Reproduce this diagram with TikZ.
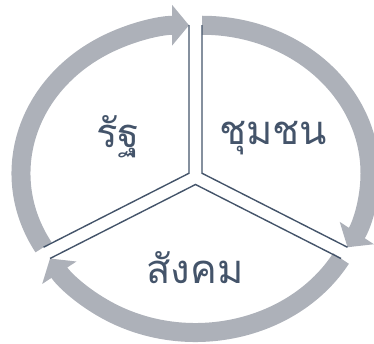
\documentclass[tikz,border=0pt]{standalone}
\usepackage{fontspec}
\newfontfamily\thaifont[Script=Thai]{Loma}
\usepackage{tikz}
\usetikzlibrary{arrows.meta, calc}
\definecolor{ringgray}{RGB}{173,177,185}
\definecolor{slate}{RGB}{68,84,106}

\begin{document}
\begin{tikzpicture}[x=1pt, y=1pt,
    ring/.style={line width=19pt, ringgray, -{Triangle[width=40pt, length=17pt]}},
    divider/.style={line width=1.4pt, slate},
    sectortext/.style={font=\thaifont\fontsize{40}{48}\selectfont, text=slate}]
  \useasboundingbox (0,0) rectangle (374,343);
  \coordinate (O) at (195.5,166);
  % exploded corners of the three sectors
  \coordinate (cL) at ($(O)+(-6.5,3.75)$);
  \coordinate (cR) at ($(O)+(6.5,3.75)$);
  \coordinate (cB) at ($(O)+(0,-7.5)$);
  % cycle arrows
  \draw[ring] ($(cL)+(210:168 and 148)$) arc[start angle=210, end angle=90, x radius=168, y radius=148];
  \draw[ring] ($(cR)+(90:168 and 148)$) arc[start angle=90, end angle=-30, x radius=168, y radius=148];
  \draw[ring] ($(cB)+(-30:168 and 148)$) arc[start angle=-30, end angle=-150, x radius=168, y radius=148];
  % sector edges
  \draw[divider] ($(cL)+(90:168 and 148)$) -- (cL) -- ($(cL)+(210:168 and 148)$);
  \draw[divider] ($(cR)+(90:168 and 148)$) -- (cR) -- ($(cR)+(-30:168 and 148)$);
  \draw[divider] ($(cB)+(-30:168 and 148)$) -- (cB) -- ($(cB)+(210:168 and 148)$);
  % labels
  \node[sectortext] (state) at (118,206) {รัฐ};
  \node[sectortext] (community) at (273,205) {ชุมชน};
  \node[sectortext] (society) at (195,75) {สังคม};
\end{tikzpicture}
\end{document}
